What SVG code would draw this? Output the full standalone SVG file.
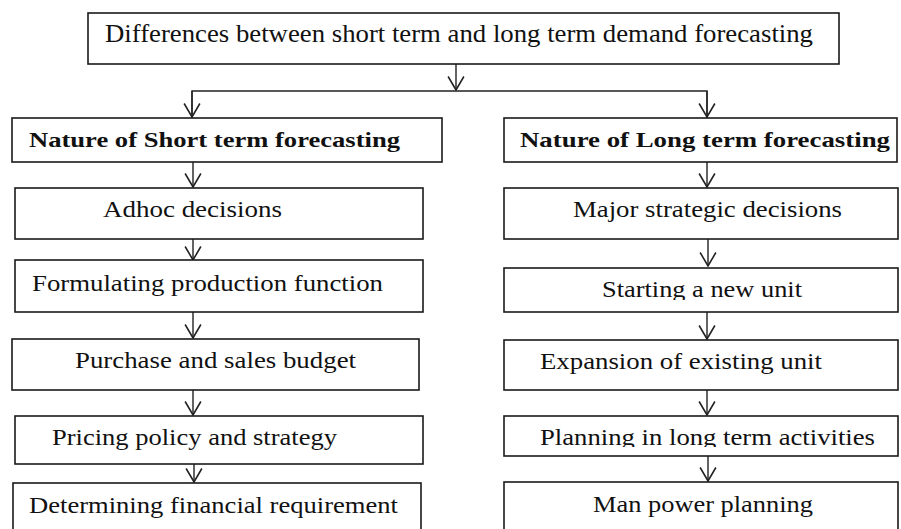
<svg xmlns="http://www.w3.org/2000/svg" width="901" height="529" viewBox="0 0 901 529">
<style>
.box{fill:#fff;stroke:#1a1a1a;stroke-width:1.6}
text{font-family:'Liberation Serif','Times New Roman',Times,serif;font-size:24px;fill:#111}
.b{font-weight:bold;font-size:22px}
.top{font-size:25px}
.c{fill:none;stroke:#222;stroke-width:1.4}
</style>
<defs>
<marker id="v" markerUnits="userSpaceOnUse" markerWidth="16" markerHeight="18" viewBox="-13 -8 14 16" refX="0" refY="0" orient="auto">
<path d="M-12,-7 L0,0 L-12,7" fill="none" stroke="#222" stroke-width="1.4"/>
</marker>
<clipPath id="cl1"><rect x="12" y="118" width="430" height="34"/></clipPath>
<clipPath id="cl2"><rect x="504" y="118" width="393" height="34"/></clipPath>
<clipPath id="cl3"><rect x="504" y="268" width="394" height="32"/></clipPath>
<clipPath id="cl4"><rect x="504" y="416" width="394" height="31"/></clipPath>
</defs>
<rect width="901" height="529" fill="#fff"/>
<g id="connectors">
<line class="c" x1="456" y1="64" x2="456" y2="90" marker-end="url(#v)"/>
<polyline class="c" points="192,118 192,91 707,91 707,118"/>
<line class="c" x1="192" y1="91" x2="192" y2="117" marker-end="url(#v)"/>
<line class="c" x1="707" y1="91" x2="707" y2="117" marker-end="url(#v)"/>
<line class="c" x1="193" y1="162" x2="193" y2="187" marker-end="url(#v)"/>
<line class="c" x1="193" y1="239" x2="193" y2="260" marker-end="url(#v)"/>
<line class="c" x1="193" y1="312" x2="193" y2="338" marker-end="url(#v)"/>
<line class="c" x1="193" y1="390" x2="193" y2="415" marker-end="url(#v)"/>
<line class="c" x1="194" y1="456" x2="194" y2="482" marker-end="url(#v)"/>
<line class="c" x1="707" y1="162" x2="707" y2="187" marker-end="url(#v)"/>
<line class="c" x1="708" y1="239" x2="708" y2="266" marker-end="url(#v)"/>
<line class="c" x1="707" y1="312" x2="707" y2="339" marker-end="url(#v)"/>
<line class="c" x1="707" y1="390" x2="707" y2="415" marker-end="url(#v)"/>
<line class="c" x1="708" y1="456" x2="708" y2="481" marker-end="url(#v)"/>
</g>
<g id="n-top"><rect class="box" x="88" y="13" width="751" height="51"/>
<text class="top" x="105" y="42" textLength="708" lengthAdjust="spacingAndGlyphs">Differences between short term and long term demand forecasting</text></g>
<g id="n-short"><rect class="box" x="12" y="118" width="430" height="44"/>
<text class="b" x="29" y="147" textLength="371" lengthAdjust="spacingAndGlyphs" clip-path="url(#cl1)">Nature of Short term forecasting</text></g>
<g id="n-long"><rect class="box" x="504" y="118" width="393" height="44"/>
<text class="b" x="520" y="147" textLength="370" lengthAdjust="spacingAndGlyphs" clip-path="url(#cl2)">Nature of Long term forecasting</text></g>
<g id="n-adhoc"><rect class="box" x="15" y="188" width="408" height="51"/>
<text x="103" y="217" textLength="179" lengthAdjust="spacingAndGlyphs">Adhoc decisions</text></g>
<g id="n-major"><rect class="box" x="504" y="188" width="394" height="51"/>
<text x="573" y="217" textLength="269" lengthAdjust="spacingAndGlyphs">Major strategic decisions</text></g>
<g id="n-formulating"><rect class="box" x="15" y="260" width="408" height="52"/>
<text x="32" y="291" textLength="351" lengthAdjust="spacingAndGlyphs">Formulating production function</text></g>
<g id="n-starting"><rect class="box" x="504" y="268" width="394" height="44"/>
<text x="602" y="297" textLength="200" lengthAdjust="spacingAndGlyphs" clip-path="url(#cl3)">Starting a new unit</text></g>
<g id="n-purchase"><rect class="box" x="12" y="339" width="407" height="51"/>
<text x="75" y="368" textLength="281" lengthAdjust="spacingAndGlyphs">Purchase and sales budget</text></g>
<g id="n-expansion"><rect class="box" x="504" y="340" width="394" height="50"/>
<text x="540" y="369" textLength="282" lengthAdjust="spacingAndGlyphs">Expansion of existing unit</text></g>
<g id="n-pricing"><rect class="box" x="15" y="416" width="408" height="48"/>
<text x="52" y="445" textLength="285" lengthAdjust="spacingAndGlyphs">Pricing policy and strategy</text></g>
<g id="n-planning"><rect class="box" x="504" y="416" width="394" height="40"/>
<text x="540" y="445" textLength="335" lengthAdjust="spacingAndGlyphs" clip-path="url(#cl4)">Planning in long term activities</text></g>
<g id="n-determining"><rect class="box" x="13" y="483" width="408" height="60"/>
<text x="29" y="513" textLength="369" lengthAdjust="spacingAndGlyphs">Determining financial requirement</text></g>
<g id="n-man"><rect class="box" x="504" y="482" width="394" height="60"/>
<text x="593" y="512" textLength="220" lengthAdjust="spacingAndGlyphs">Man power planning</text></g>
</svg>
